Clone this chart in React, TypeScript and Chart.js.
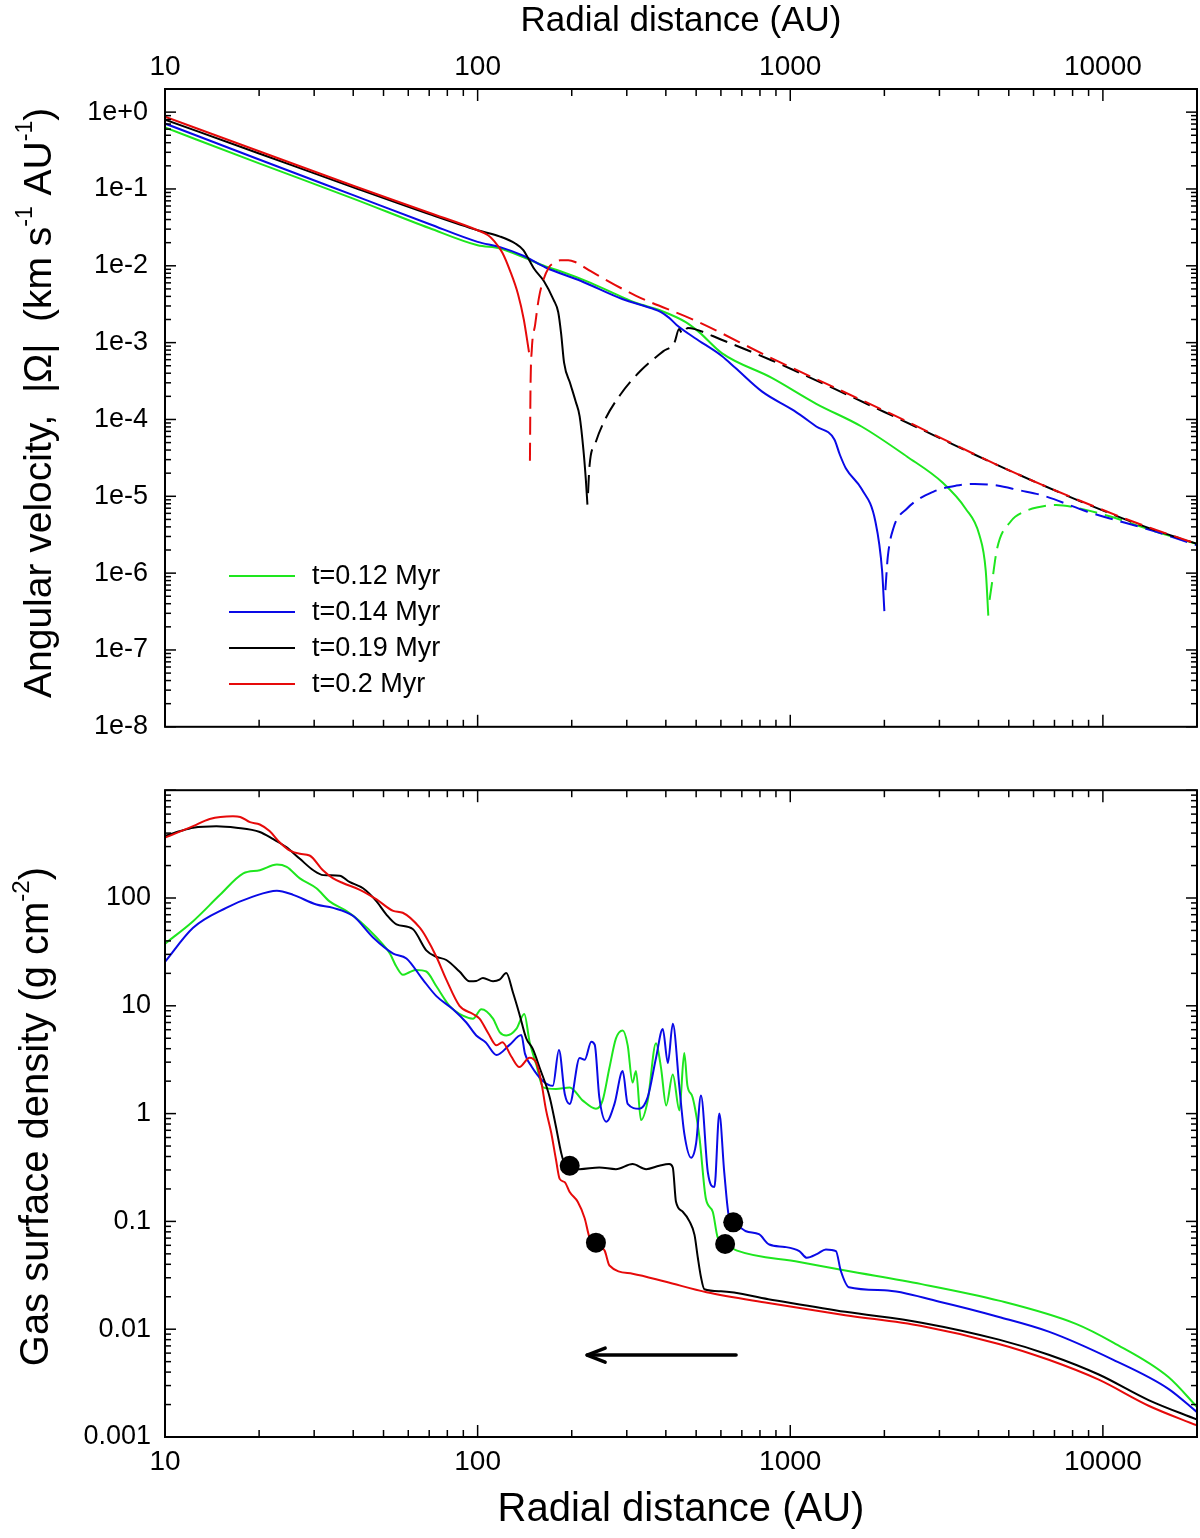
import React, { useEffect, useRef } from 'react';
import { Chart, registerables } from 'chart.js';

Chart.register(...registerables);

type Pt = [number, number];

const FONT = "'Liberation Sans', Arial, Helvetica, sans-serif";
Chart.defaults.font.family = FONT;
Chart.defaults.color = '#000';

// === Shared radial axis (AU) ===
const R_MIN = 10;
const R_MAX = 20000;
const R_TICKS = [10, 100, 1000, 10000];

// === Series (legend order) ===
const SERIES_LABELS = ['t=0.12 Myr', 't=0.14 Myr', 't=0.19 Myr', 't=0.2 Myr'];
const SERIES_COLORS = ['#1ee61e', '#0a0ae6', '#000000', '#e60a0a'];

// === Top panel: angular velocity |Omega| (km s-1 AU-1) ===
const OMEGA_MIN = 1e-8;
const OMEGA_MAX = 2;
const OMEGA_TICKS = [1, 1e-1, 1e-2, 1e-3, 1e-4, 1e-5, 1e-6, 1e-7, 1e-8];

const OMEGA_012_SOLID: Pt[] = [
  [10, 0.63], [20, 0.215], [40, 0.075], [70, 0.031], [100, 0.0185], [118, 0.0168], [141, 0.0128],
  [165, 0.0098], [184, 0.0085], [230, 0.006], [290, 0.0039], [320, 0.0033], [386, 0.0026],
  [463, 0.00185], [510, 0.00138], [604, 0.00073], [870, 0.00035], [1211, 0.00016], [1690, 8.1e-5],
  [2360, 3.3e-5], [3075, 1.5e-5], [3640, 6.9e-6], [4020, 3.2e-6], [4220, 1.07e-6], [4300, 2.8e-7],
];
const OMEGA_012_DASHED: Pt[] = [
  [4340, 4.5e-7], [4400, 6.6e-7], [4590, 2.1e-6], [5070, 4.7e-6], [5600, 6.3e-6], [6200, 7.2e-6],
  [7080, 7.7e-6], [8360, 7.0e-6], [10500, 5.5e-6], [14650, 3.5e-6], [20000, 2.4e-6],
];
const OMEGA_014_SOLID: Pt[] = [
  [10, 0.71], [20, 0.242], [40, 0.083], [70, 0.035], [100, 0.0205], [118, 0.0175], [140, 0.0135],
  [165, 0.0095], [215, 0.0063], [290, 0.0037], [360, 0.0028], [386, 0.0025], [410, 0.0021],
  [433, 0.0017], [495, 0.00115], [604, 0.00067], [667, 0.00047], [813, 0.00023], [1028, 0.00013],
  [1211, 8.1e-5], [1384, 5.5e-5], [1440, 3.5e-5], [1507, 2.3e-5], [1690, 1.25e-5], [1872, 4.7e-6],
  [1967, 1.07e-6], [2000, 3.2e-7],
];
const OMEGA_014_DASHED: Pt[] = [
  [2015, 6e-7], [2050, 1.6e-6], [2140, 3.9e-6], [2360, 6.9e-6], [2875, 1.15e-5], [3400, 1.38e-5],
  [3890, 1.45e-5], [4590, 1.38e-5], [5400, 1.2e-5], [6400, 1.03e-5], [8920, 6.3e-6], [14650, 3.5e-6],
  [20000, 2.3e-6],
];
const OMEGA_019_SOLID: Pt[] = [
  [10, 0.8], [20, 0.29], [40, 0.105], [70, 0.047], [100, 0.029], [118, 0.024], [132, 0.0195],
  [140, 0.016], [146, 0.012], [152, 0.009], [163, 0.0063], [175, 0.0036], [181, 0.0025],
  [185, 0.0013], [189, 0.00055], [198, 0.00029], [206, 0.00017], [212, 0.00011], [218, 4e-5],
  [222, 1.6e-5], [224.5, 7.8e-6],
];
const OMEGA_019_DASHED: Pt[] = [
  [225.5, 1.1e-5], [228, 2.5e-5], [238, 4.9e-5], [255, 9.8e-5], [286, 0.00021], [332, 0.00043],
  [392, 0.00077], [426, 0.001], [441, 0.0015], [452, 0.0013], [470, 0.00155], [495, 0.0015],
  [600, 0.0011], [870, 0.00059], [2000, 0.000125], [5250, 2e-5], [12450, 4.6e-6], [20000, 2.4e-6],
];
const OMEGA_020_SOLID: Pt[] = [
  [10, 0.87], [20, 0.31], [40, 0.11], [70, 0.049], [100, 0.029], [108, 0.025], [113, 0.021],
  [120, 0.0148], [127, 0.0086], [134.6, 0.0043], [140.5, 0.002], [146, 0.00075],
];
const OMEGA_020_DASHED: Pt[] = [
  [147, 2.9e-5], [147.6, 0.00025], [149, 0.0008], [152.7, 0.0017], [157, 0.0038], [162, 0.0064],
  [169, 0.0095], [176, 0.011], [184, 0.0118], [195, 0.0118], [205, 0.0112], [230, 0.0085],
  [320, 0.0041], [495, 0.00195], [870, 0.00063], [2000, 0.00013], [5250, 2e-5], [12450, 4.7e-6],
  [20000, 2.4e-6],
];

// === Bottom panel: gas surface density (g cm-2) ===
const SIGMA_MIN = 0.001;
const SIGMA_MAX = 1000;
const SIGMA_TICKS = [0.001, 0.01, 0.1, 1, 10, 100];

const SIGMA_012: Pt[] = [
  [10, 37.7], [12.3, 61], [15, 107], [17.8, 169], [20.1, 181], [22.8, 204], [24.5, 194], [27, 152],
  [30.5, 123], [33.6, 93], [38, 76], [42, 61], [47.5, 43], [52.4, 30.5], [55, 23], [57.7, 19.4],
  [60.5, 20.5], [63.6, 21.5], [68.5, 20.8], [73.8, 15.2], [81.3, 10], [89.7, 8.1], [96.6, 7.6],
  [102.8, 9.3], [112, 7.6], [117.6, 5.7], [123.5, 5.3], [133, 6.1], [141, 8.4], [146.6, 4.65],
  [154, 2.85], [162, 1.75], [178, 1.69], [197, 1.75], [217, 1.32], [239, 1.11], [251, 1.32],
  [264, 2.66], [277, 4.98], [291, 5.9], [302, 4.3], [313, 1.94], [321, 2.48], [333, 0.87],
  [350, 1.32], [372, 4.5], [386, 2.66], [401, 1.19], [421, 2.31], [442, 1.07], [458, 3.64],
  [469, 1.81], [487, 1.42], [512, 0.61], [537, 0.163], [565, 0.123], [586, 0.071], [619, 0.0617],
  [676, 0.0535], [1069, 0.042], [1500, 0.035], [2630, 0.0262], [4650, 0.0184], [8200, 0.0112],
  [10800, 0.0075], [16200, 0.0036], [20000, 0.0019],
];
const SIGMA_014: Pt[] = [
  [10, 25.6], [12.3, 53], [15.7, 81], [19.1, 103], [22.8, 117], [25.7, 107], [30.5, 87], [34.5, 81],
  [40, 68], [46.3, 43], [53.7, 30.5], [59.2, 27.5], [66.8, 17.5], [73.8, 12.3], [83.4, 9.3], [92, 7.0],
  [99, 5.3], [106, 4.6], [115, 3.5], [126.5, 4.34], [138, 5.35], [141.7, 3.6], [148.6, 2.75],
  [162, 2.0], [174, 1.81], [182, 3.9], [190, 1.52], [197, 1.23], [212, 3.28], [220, 3.16],
  [231, 4.65], [237, 4.34], [245, 1.42], [258, 0.84], [274, 1.23], [291, 2.48], [302, 1.23],
  [329, 1.11], [350, 1.42], [372, 3.28], [391, 6.1], [406, 2.95], [421, 6.8], [442, 1.75],
  [458, 0.66], [482, 0.39], [500, 0.534], [518, 1.47], [545, 0.285], [572, 0.208], [593, 1.0],
  [615, 0.285], [638, 0.107], [657, 0.098], [722, 0.081], [794, 0.076], [857, 0.061], [960, 0.058],
  [1069, 0.053], [1130, 0.046], [1220, 0.05], [1300, 0.055], [1400, 0.053], [1450, 0.035],
  [1540, 0.0245], [2000, 0.023], [3000, 0.018], [4650, 0.013], [6710, 0.0095], [10800, 0.0052],
  [16200, 0.0028], [20000, 0.0017],
];
const SIGMA_019: Pt[] = [
  [10, 377], [11.2, 418], [12.3, 449], [14.6, 464], [16.9, 449], [20.1, 410], [22.2, 351],
  [24.5, 295], [27, 231], [29.8, 181], [32.1, 163], [36.2, 161], [38.9, 141], [43, 123], [47.5, 93],
  [51, 70.5], [55, 57], [62, 51.6], [68.5, 32.7], [73.8, 28.5], [79.4, 26.6], [87.5, 20.8],
  [94.2, 16.9], [99, 17], [104, 18.1], [112, 16.9], [117.5, 17.5], [123.5, 20.1], [129.8, 13.2],
  [136, 8.4], [143, 5.0], [150, 4.0], [158, 2.65], [170, 1.42], [178, 0.76], [185, 0.434],
  [190, 0.34], [197, 0.328], [212, 0.305], [245, 0.316], [277, 0.305], [313, 0.34], [346, 0.305],
  [381, 0.328], [410, 0.34], [421, 0.316], [431, 0.152], [453, 0.123], [476, 0.1], [494, 0.075],
  [506, 0.0465], [518, 0.0305], [531, 0.0235], [600, 0.0225], [851, 0.019], [1500, 0.0145],
  [2630, 0.0115], [4650, 0.008], [6710, 0.0058], [9700, 0.0038], [14000, 0.0022], [20000, 0.00145],
];
const SIGMA_020: Pt[] = [
  [10, 363], [12.3, 464], [13.9, 541], [16.5, 573], [17.4, 565], [18.7, 505], [20.1, 481],
  [21.6, 418], [23.3, 327], [25.1, 275], [27, 257], [29, 248], [32, 181], [34.5, 152], [37.2, 137],
  [42, 119], [47.5, 97], [53.7, 76], [57.6, 73], [65.3, 53], [68.5, 43], [73.8, 28.5], [79.4, 17.5],
  [87.5, 10], [96.6, 8.4], [101.4, 7.6], [108, 5.6], [115, 4.3], [120, 4.6], [128, 3.4], [136, 2.7],
  [146.6, 3.3], [154, 2.95], [159.6, 2.0], [165.6, 1.07], [172, 0.66], [178, 0.377], [183, 0.248],
  [190, 0.231], [197, 0.187], [209, 0.152], [220, 0.107], [228, 0.071], [239, 0.0635],
  [255, 0.0535], [264, 0.039], [313, 0.0327], [400, 0.0275], [540, 0.022], [851, 0.0175],
  [1500, 0.0135], [2630, 0.0107], [4650, 0.0073], [6710, 0.0052], [9700, 0.0034], [14000, 0.00195],
  [20000, 0.00128],
];
const SIGMA_DOTS: Pt[] = [[197, 0.328], [239, 0.0635], [619, 0.0617], [657, 0.098]];
const ARROW_FROM: Pt = [671, 0.00575];
const ARROW_TO: Pt = [224, 0.00575];

const OMEGA_SOLID = [OMEGA_012_SOLID, OMEGA_014_SOLID, OMEGA_019_SOLID, OMEGA_020_SOLID];
const OMEGA_DASHED = [OMEGA_012_DASHED, OMEGA_014_DASHED, OMEGA_019_DASHED, OMEGA_020_DASHED];
const SIGMA_SERIES = [SIGMA_012, SIGMA_014, SIGMA_019, SIGMA_020];

const toXY = (pts: Pt[]) => pts.map(([x, y]) => ({ x, y }));

// === Plugins ===
// frame + inward major/minor ticks on all four sides
const frameTicks = {
  id: 'frameTicks',
  afterDatasetsDraw(chart: any) {
    const { ctx, chartArea: a, scales } = chart;
    const xs = scales.x;
    const ys = scales.y;
    const seg = (x0: number, y0: number, x1: number, y1: number) => {
      ctx.beginPath();
      ctx.moveTo(x0, y0);
      ctx.lineTo(x1, y1);
      ctx.stroke();
    };
    const each = (s: any, fn: (px: number, major: boolean) => void) => {
      const lo = Math.floor(Math.log10(s.min));
      const hi = Math.ceil(Math.log10(s.max));
      for (let e = lo; e <= hi; e++) {
        for (let m = 1; m < 10; m++) {
          const v = m * Math.pow(10, e);
          if (v < s.min * 0.999 || v > s.max * 1.001) continue;
          fn(s.getPixelForValue(v), m === 1);
        }
      }
    };
    ctx.save();
    ctx.strokeStyle = '#000';
    ctx.lineWidth = 1.5;
    each(xs, (px, major) => {
      const len = major ? 12 : 7;
      seg(px, a.top, px, a.top + len);
      seg(px, a.bottom, px, a.bottom - len);
    });
    each(ys, (py, major) => {
      const len = major ? 11 : 6;
      seg(a.left, py, a.left + len, py);
      seg(a.right, py, a.right - len, py);
    });
    ctx.lineWidth = 2;
    ctx.strokeRect(a.left, a.top, a.right - a.left, a.bottom - a.top);
    ctx.restore();
  },
};

type Part = { t: string; sup?: boolean };

const yTitle = (id: string, parts: Part[], cx: number, dy: number, size: number) => ({
  id,
  afterDraw(chart: any) {
    const { ctx, chartArea: a } = chart;
    const cy = (a.top + a.bottom) / 2 + dy;
    ctx.save();
    ctx.translate(cx, cy);
    ctx.rotate(-Math.PI / 2);
    ctx.fillStyle = '#000';
    ctx.textBaseline = 'middle';
    ctx.textAlign = 'left';
    const fontOf = (p: Part) => `${p.sup ? Math.round(size * 0.6) : size}px ${FONT}`;
    const widths = parts.map((p) => {
      ctx.font = fontOf(p);
      return ctx.measureText(p.t).width;
    });
    let x = -widths.reduce((s, w) => s + w, 0) / 2;
    parts.forEach((p, i) => {
      ctx.font = fontOf(p);
      ctx.fillText(p.t, x, p.sup ? -size * 0.36 : 0);
      x += widths[i];
    });
    ctx.restore();
  },
});

const legendInPlot = {
  id: 'legendInPlot',
  afterDatasetsDraw(chart: any) {
    const { ctx, chartArea: a } = chart;
    ctx.save();
    ctx.font = `27px ${FONT}`;
    ctx.textBaseline = 'middle';
    ctx.fillStyle = '#000';
    SERIES_LABELS.forEach((label, i) => {
      const y = a.top + 487 + i * 36;
      ctx.strokeStyle = SERIES_COLORS[i];
      ctx.lineWidth = 2;
      ctx.beginPath();
      ctx.moveTo(a.left + 64, y);
      ctx.lineTo(a.left + 130, y);
      ctx.stroke();
      ctx.fillText(label, a.left + 147, y + 1);
    });
    ctx.restore();
  },
};

const flowArrow = {
  id: 'flowArrow',
  afterDatasetsDraw(chart: any) {
    const { ctx, scales } = chart;
    const x0 = scales.x.getPixelForValue(ARROW_FROM[0]);
    const y0 = scales.y.getPixelForValue(ARROW_FROM[1]);
    const x1 = scales.x.getPixelForValue(ARROW_TO[0]);
    const y1 = scales.y.getPixelForValue(ARROW_TO[1]);
    ctx.save();
    ctx.strokeStyle = '#000';
    ctx.lineWidth = 3.5;
    ctx.lineCap = 'round';
    ctx.lineJoin = 'round';
    ctx.beginPath();
    ctx.moveTo(x0, y0);
    ctx.lineTo(x1, y1);
    ctx.stroke();
    ctx.beginPath();
    ctx.moveTo(x1 + 18, y1 - 7);
    ctx.lineTo(x1, y1);
    ctx.lineTo(x1 + 18, y1 + 7);
    ctx.stroke();
    ctx.restore();
  },
};

// === Chart configs ===
const xAxis = (position: 'top' | 'bottom', height: number, pad: number, titleSize: number, titlePad: any) => ({
  type: 'logarithmic',
  position,
  min: R_MIN,
  max: R_MAX,
  grid: { display: false, drawTicks: false },
  border: { display: false },
  afterBuildTicks: (s: any) => {
    s.ticks = R_TICKS.map((v) => ({ value: v }));
  },
  afterFit: (s: any) => {
    s.height = height;
  },
  ticks: {
    autoSkip: false,
    maxRotation: 0,
    padding: pad,
    font: { size: 28 },
    color: '#000',
    callback: (v: any) => String(v),
  },
  title: {
    display: true,
    text: 'Radial distance (AU)',
    font: { size: titleSize },
    color: '#000',
    padding: titlePad,
  },
});

const yAxis = (min: number, max: number, ticks: number[], pad: number, fmt: (v: number) => string) => ({
  type: 'logarithmic',
  position: 'left',
  min,
  max,
  grid: { display: false, drawTicks: false },
  border: { display: false },
  afterBuildTicks: (s: any) => {
    s.ticks = ticks.map((v) => ({ value: v }));
  },
  afterFit: (s: any) => {
    s.width = 165;
  },
  ticks: {
    autoSkip: false,
    padding: pad,
    font: { size: 27 },
    color: '#000',
    callback: (v: any) => fmt(Number(v)),
  },
});

const lineStyle = (i: number) => ({
  borderColor: SERIES_COLORS[i],
  borderWidth: 2,
  pointRadius: 0,
  cubicInterpolationMode: 'monotone',
});

const buildOmega = () => {
  const datasets: any[] = [];
  [3, 2, 1, 0].forEach((i) => {
    datasets.push({ label: SERIES_LABELS[i], data: toXY(OMEGA_SOLID[i]), ...lineStyle(i) });
    datasets.push({
      label: SERIES_LABELS[i] + ' (negative)',
      data: toXY(OMEGA_DASHED[i]),
      ...lineStyle(i),
      borderDash: [18, 8],
    });
  });
  return {
    type: 'line',
    data: { datasets },
    options: {
      animation: false,
      responsive: true,
      maintainAspectRatio: false,
      events: [],
      layout: { autoPadding: false, padding: { top: 0, right: 3, bottom: 12, left: 0 } },
      plugins: { legend: { display: false }, tooltip: { enabled: false } },
      scales: {
        x: xAxis('top', 89, 5, 35, { top: 0, bottom: 0 }),
        y: yAxis(OMEGA_MIN, OMEGA_MAX, OMEGA_TICKS, 17, (v) => {
          const e = Math.round(Math.log10(v));
          return `1e${e >= 0 ? '+' : ''}${e}`;
        }),
      },
    },
    plugins: [
      frameTicks,
      legendInPlot,
      yTitle(
        'omegaTitle',
        [
          { t: 'Angular velocity,  |\u03A9|  (km s' },
          { t: '-1', sup: true },
          { t: ' AU' },
          { t: '-1', sup: true },
          { t: ')' },
        ],
        40,
        -5,
        39,
      ),
    ],
  } as any;
};

const buildSigma = () => {
  const datasets: any[] = [
    {
      label: 'planet positions',
      data: toXY(SIGMA_DOTS),
      showLine: false,
      pointRadius: 10,
      pointBackgroundColor: '#000',
      pointBorderWidth: 0,
      order: -1,
    },
  ];
  [3, 2, 1, 0].forEach((i) => {
    datasets.push({ label: SERIES_LABELS[i], data: toXY(SIGMA_SERIES[i]), ...lineStyle(i) });
  });
  return {
    type: 'line',
    data: { datasets },
    options: {
      animation: false,
      responsive: true,
      maintainAspectRatio: false,
      events: [],
      layout: { autoPadding: false, padding: { top: 17, right: 3, bottom: 0, left: 0 } },
      plugins: { legend: { display: false }, tooltip: { enabled: false } },
      scales: {
        x: xAxis('bottom', 101, 8, 40, { top: 0, bottom: 4 }),
        y: yAxis(SIGMA_MIN, SIGMA_MAX, SIGMA_TICKS, 14, (v) => String(v)),
      },
    },
    plugins: [
      frameTicks,
      flowArrow,
      yTitle(
        'sigmaTitle',
        [{ t: 'Gas surface density (g cm' }, { t: '-2', sup: true }, { t: ')' }],
        37,
        3,
        40,
      ),
    ],
  } as any;
};

// === Panel ===
function Panel({ build, top, height }: { build: () => any; top: number; height: number }) {
  const ref = useRef<HTMLCanvasElement>(null);
  useEffect(() => {
    if (!ref.current) return;
    const chart = new Chart(ref.current, build());
    return () => chart.destroy();
  }, [build]);
  return (
    <div style={{ position: 'absolute', left: 0, top, width: 1200, height }}>
      <canvas ref={ref} />
    </div>
  );
}

export default function App() {
  return (
    <div style={{ position: 'absolute', left: 0, top: 0, width: 1200, height: 1538, background: '#fff' }}>
      <Panel build={buildOmega} top={0} height={760} />
      <Panel build={buildSigma} top={760} height={778} />
    </div>
  );
}
